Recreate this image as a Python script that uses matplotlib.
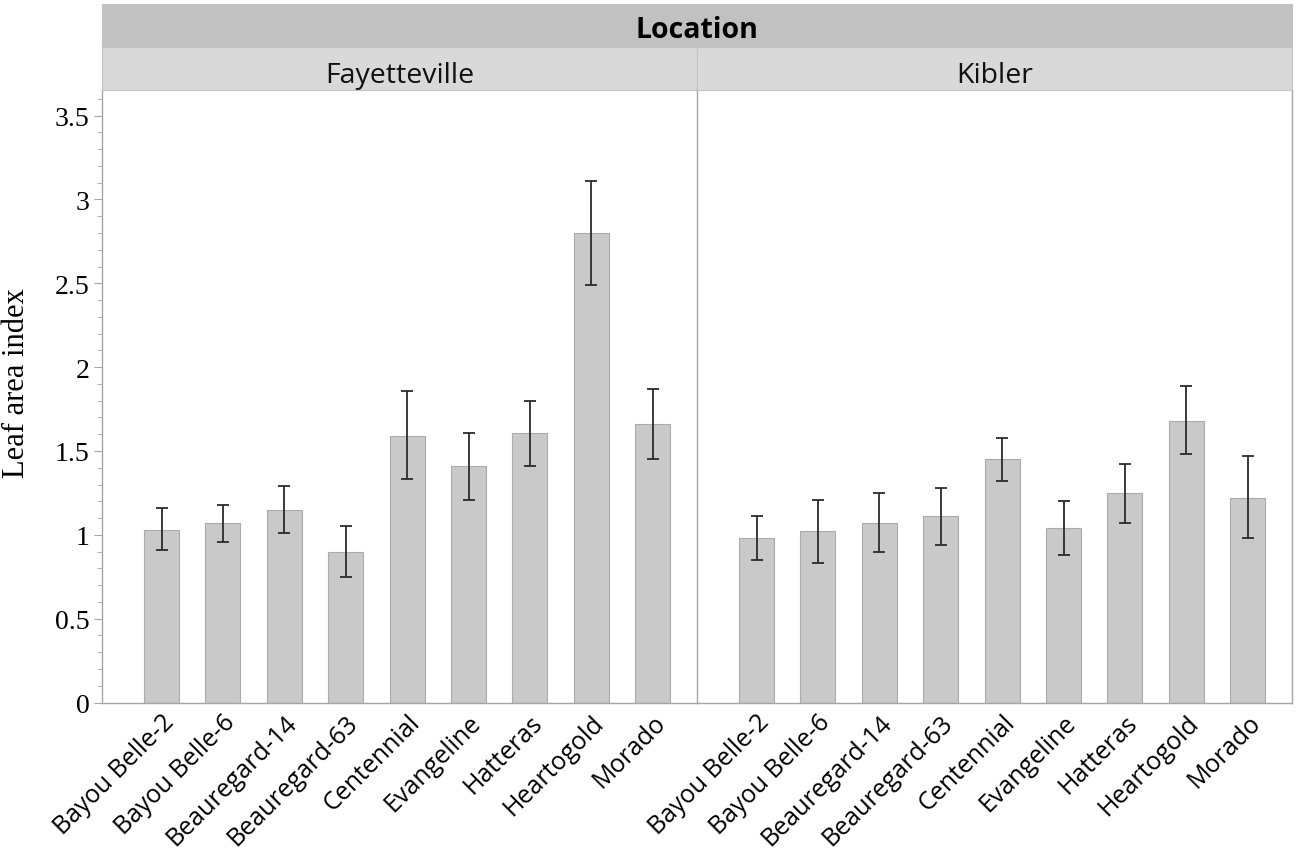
import matplotlib
matplotlib.use("Agg")
import matplotlib.pyplot as plt
from matplotlib.ticker import MultipleLocator

# cultivars on the x axis (same in both locations)
cultivars = ["Bayou Belle-2", "Bayou Belle-6", "Beauregard-14", "Beauregard-63",
             "Centennial", "Evangeline", "Hatteras", "Heartogold", "Morado"]
locations = ["Fayetteville", "Kibler"]

# mean leaf area index and error bar ends
fay_mean = [1.03, 1.07, 1.15, 0.90, 1.59, 1.41, 1.61, 2.80, 1.66]
fay_low = [0.91, 0.96, 1.01, 0.75, 1.33, 1.21, 1.41, 2.49, 1.45]
fay_high = [1.16, 1.18, 1.29, 1.05, 1.86, 1.61, 1.80, 3.11, 1.87]

kib_mean = [0.98, 1.02, 1.07, 1.11, 1.45, 1.04, 1.25, 1.68, 1.22]
kib_low = [0.85, 0.83, 0.90, 0.94, 1.32, 0.88, 1.07, 1.48, 0.98]
kib_high = [1.11, 1.21, 1.25, 1.28, 1.58, 1.20, 1.42, 1.89, 1.47]

W, H = 1298, 853
fig = plt.figure(figsize=(W / 100, H / 100), dpi=100)

def fx(px):
    return px / W

def fy(py):
    return 1 - py / H

serif = "Liberation Serif"
sans = "Open Sans"
frame = "#a6a6a6"

panels = [(102, 697, fay_mean, fay_low, fay_high),
          (697, 1292, kib_mean, kib_low, kib_high)]
top_px, base_px = 91, 703.5

axes = []
for i, (x0, x1, mean, low, high) in enumerate(panels):
    ax = fig.add_axes([fx(x0), fy(base_px), fx(x1 - x0), fy(top_px) - fy(base_px)])
    pos = list(range(len(cultivars)))
    yerr = [[m - l for m, l in zip(mean, low)], [h - m for m, h in zip(mean, high)]]
    ax.bar(pos, mean, width=0.57, color="#c9c9c9", edgecolor="#ababab", linewidth=0.8,
           zorder=2)
    ax.errorbar(pos, mean, yerr=yerr, fmt="none", ecolor="#2b2b2b", elinewidth=1.3,
                capsize=4.5, capthick=1.3, zorder=3)
    ax.set_xlim(-0.97, 8.72)
    ax.set_ylim(0, 3.653)
    ax.set_xticks(pos)
    ax.set_xticklabels(cultivars, rotation=45, ha="right", rotation_mode="anchor",
                       fontsize=18, family=sans)
    ax.tick_params(axis="x", length=0, pad=5)
    for s in ax.spines.values():
        s.set_color(frame)
        s.set_linewidth(1.0)
    ax.spines["top"].set_visible(False)
    if i == 0:
        ax.yaxis.set_major_locator(MultipleLocator(0.5))
        ax.yaxis.set_minor_locator(MultipleLocator(0.1))
        ax.set_yticks([0, 0.5, 1, 1.5, 2, 2.5, 3, 3.5])
        ax.set_yticklabels(["0", "0.5", "1", "1.5", "2", "2.5", "3", "3.5"],
                           fontsize=20, family=serif)
        ax.tick_params(axis="y", which="major", length=6, color=frame, pad=3)
        ax.tick_params(axis="y", which="minor", length=3.5, color=frame)
        ax.spines["right"].set_visible(False)
    else:
        ax.set_yticks([])
        ax.tick_params(axis="y", which="both", length=0)
    axes.append(ax)

    # facet strip with location name
    sx = fig.add_axes([fx(x0), fy(91), fx(x1 - x0), fy(48) - fy(91)])
    sx.set_facecolor("#d9d9d9")
    sx.set_xticks([])
    sx.set_yticks([])
    for s in sx.spines.values():
        s.set_color("#c4c4c4")
    sx.text(0.5, 0.19, locations[i], ha="center", va="baseline", fontsize=20.5,
            family=sans, color="#111111", transform=sx.transAxes)

# outer strip
tx = fig.add_axes([fx(102), fy(48), fx(1292 - 102), fy(5) - fy(48)])
tx.set_facecolor("#c1c1c1")
tx.set_xticks([])
tx.set_yticks([])
for s in tx.spines.values():
    s.set_color("#c1c1c1")
tx.text(0.5, 0.23, "Location", ha="center", va="baseline", fontsize=20.5,
        fontweight="bold", family=sans, color="black", transform=tx.transAxes)

fig.text(fx(17), fy(383), "Leaf area index", rotation=90, ha="center", va="center",
         fontsize=22, family=serif)

fig.savefig("out.png", dpi=100)
